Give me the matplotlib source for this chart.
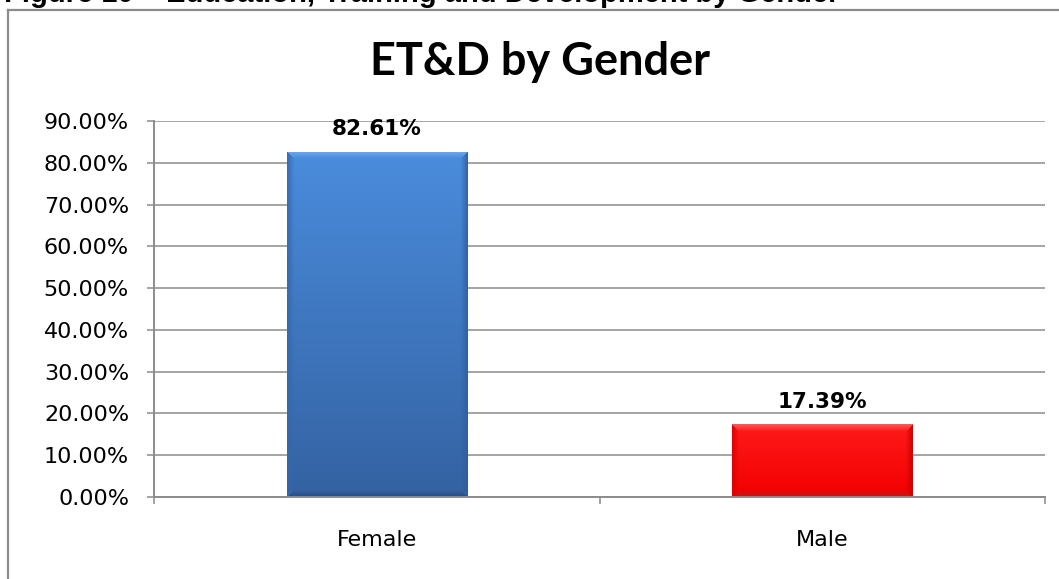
import numpy as np
import matplotlib
matplotlib.use("Agg")
import matplotlib.pyplot as plt
from matplotlib.lines import Line2D
from matplotlib.colors import to_rgb

# ---- data ----
categories = ["Female", "Male"]
values = [82.61, 17.39]
ytick_values = [0, 10, 20, 30, 40, 50, 60, 70, 80, 90]
ytick_labels = [f"{v:.2f}%" for v in ytick_values]
data_labels = [f"{v:.2f}%" for v in values]
title = "ET&D by Gender"
caption = "Figure 10 \u2013 Education, Training and Development by Gender"

# ---- styles ----
W, H = 1059, 579
grid_col = "#8c8c8c"
bar_styles = [
    dict(top="#4a8cdc", bot="#3462a2", hi="#6fb0f2", side="#2f5e9c", low="#284c7e"),
    dict(top="#ff1a1a", bot="#f20000", hi="#ff6060", side="#c80000", low="#b02020"),
]

fig = plt.figure(figsize=(W / 100, H / 100), dpi=100)
ax = fig.add_axes([154 / W, 82 / H, (1045 - 154) / W, (497 - 121) / H])

x = np.arange(len(categories))
bars = ax.bar(x, values, width=0.405, color=[s["top"] for s in bar_styles],
              zorder=2, linewidth=0)

ax.set_xlim(-0.5, len(categories) - 0.5)
ax.set_ylim(0, 90)
ax.set_yticks(ytick_values)
ax.set_yticklabels(ytick_labels)
ax.set_xticks(x)
ax.set_xticklabels(categories)
ax.set_xticks(np.arange(len(categories) + 1) - 0.5, minor=True)

ax.tick_params(axis="y", which="major", length=5, width=1.1, color=grid_col,
               pad=13, labelsize=16, labelcolor="black")
ax.tick_params(axis="x", which="major", length=0, pad=24, labelsize=16)
ax.tick_params(axis="x", which="minor", length=5, width=1.1, color=grid_col)

ax.yaxis.grid(True, color=grid_col, linewidth=1.1, zorder=0)
ax.set_axisbelow(True)
for s in ["top", "right"]:
    ax.spines[s].set_visible(False)
for s in ["left", "bottom"]:
    ax.spines[s].set_color(grid_col)
    ax.spines[s].set_linewidth(1.4)
    ax.spines[s].set_zorder(3)

# bevelled gradient fills
fig.canvas.draw()
renderer = fig.canvas.get_renderer()
for rect, st in zip(bars, bar_styles):
    bb = rect.get_window_extent(renderer)
    pw, ph = max(int(round(bb.width)), 2), max(int(round(bb.height)), 2)
    t = np.linspace(0, 1, ph)[:, None, None]
    img = (np.array(to_rgb(st["top"])) * (1 - t) + np.array(to_rgb(st["bot"])) * t)
    img = np.broadcast_to(img, (ph, pw, 3)).copy()
    yy, xx = np.mgrid[0:ph, 0:pw]
    dl, dr, dt, db = xx, pw - 1 - xx, yy, ph - 1 - yy
    e = 7.0
    dmin = np.minimum(np.minimum(dl, dr), np.minimum(dt, db))
    face = np.argmin(np.stack([dt, dl, dr, db]), axis=0)
    w = np.clip(1 - dmin / e, 0, 1)[..., None]
    cols = [np.array(to_rgb(st["hi"])), np.array(to_rgb(st["side"])) * 1.1,
            np.array(to_rgb(st["side"])), np.array(to_rgb(st["low"]))]
    for k, c in enumerate(cols):
        m = (face == k)[..., None] & (dmin[..., None] < e)
        img = np.where(m, img * (1 - w * 0.85) + np.clip(c, 0, 1) * w * 0.85, img)
    x0 = rect.get_x()
    im = ax.imshow(np.clip(img, 0, 1), extent=(x0, x0 + rect.get_width(), 0, rect.get_height()),
                   aspect="auto", interpolation="bilinear", zorder=2.2)
    im.set_clip_path(rect)

# data labels
for rect, lab in zip(bars, data_labels):
    ax.annotate(lab, (rect.get_x() + rect.get_width() / 2, rect.get_height()),
                xytext=(0, 12), textcoords="offset points", ha="center", va="baseline",
                fontsize=15.5, fontweight="bold", color="black", family="DejaVu Sans")

# title
fig.text(540 / W, (H - 75) / H, title, ha="center", va="baseline",
         fontsize=32.5, fontweight="bold", family="Lato")

# cropped caption at very top
fig.text(4 / W, (H - 2) / H, caption, ha="left", va="baseline",
         fontsize=21, fontweight="bold", family="Liberation Sans")

# chart border (top and left visible)
yb = (H - 9.5) / H
xb = 8 / W
fig.add_artist(Line2D([xb, 1.01], [yb, yb], color=grid_col, lw=1.6, transform=fig.transFigure))
fig.add_artist(Line2D([xb, xb], [-0.01, yb], color=grid_col, lw=1.6, transform=fig.transFigure))

fig.savefig("out.png", dpi=100, facecolor="white")
